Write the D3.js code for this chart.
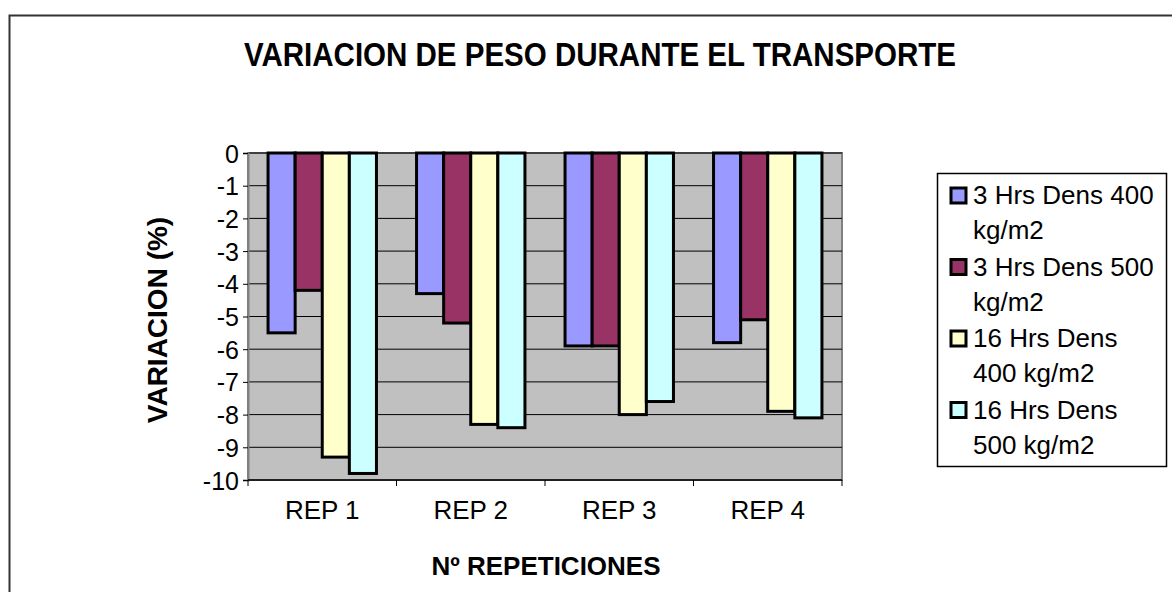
<!DOCTYPE html>
<html>
<head>
<meta charset="utf-8">
<script src="https://d3js.org/d3.v7.min.js"></script>
<style>
  body { margin: 0; background: #fff; }
  text { font-family: Arial, "Liberation Sans", sans-serif; fill: #000; }
</style>
</head>
<body>
<div id="viz"></div>
<script>
// data
var categories = ["REP 1", "REP 2", "REP 3", "REP 4"];
var seriesNames = [
  ["3 Hrs Dens 400", "kg/m2"],
  ["3 Hrs Dens 500", "kg/m2"],
  ["16 Hrs Dens", "400 kg/m2"],
  ["16 Hrs Dens", "500 kg/m2"]
];
var s3h400 = [-5.5, -4.3, -5.9, -5.8];
var s3h500 = [-4.2, -5.2, -5.9, -5.1];
var s16h400 = [-9.3, -8.3, -8.0, -7.9];
var s16h500 = [-9.8, -8.4, -7.6, -8.1];
var yTicks = [0, -1, -2, -3, -4, -5, -6, -7, -8, -9, -10];
var colors = ["#9999FF", "#993366", "#FFFFCC", "#CCFFFF"];

var series = [s3h400, s3h500, s16h400, s16h500];

var W = 1172, H = 592;
var plot = { left: 248, right: 842, top: 153, bottom: 480 };

var svg = d3.select("#viz").append("svg")
  .attr("width", W)
  .attr("height", H);

// outer chart border
svg.append("rect")
  .attr("x", 9.5).attr("y", 15.5)
  .attr("width", 1180).attr("height", 600)
  .attr("fill", "#fff")
  .attr("stroke", "#333")
  .attr("stroke-width", 2);

// scales
var x0 = d3.scaleBand()
  .domain(categories)
  .range([plot.left, plot.right])
  .paddingInner(0.27)
  .paddingOuter(0.135);

var x1 = d3.scaleBand()
  .domain(d3.range(series.length))
  .range([0, x0.bandwidth()]);

var y = d3.scaleLinear()
  .domain([-10, 0])
  .range([plot.bottom, plot.top]);

// plot background
svg.append("rect")
  .attr("x", plot.left).attr("y", plot.top)
  .attr("width", plot.right - plot.left)
  .attr("height", plot.bottom - plot.top)
  .attr("fill", "#C0C0C0")
  .attr("stroke", "#808080")
  .attr("stroke-width", 2);

// gridlines
svg.append("g")
  .selectAll("line")
  .data(yTicks.filter(function (d) { return d > -10; }))
  .enter().append("line")
  .attr("x1", plot.left).attr("x2", plot.right)
  .attr("y1", function (d) { return y(d); })
  .attr("y2", function (d) { return y(d); })
  .attr("stroke", "#000")
  .attr("stroke-width", 1);

// y axis (plain hyphen for negatives, like the original)
var yAxis = d3.axisLeft(y)
  .tickValues(yTicks)
  .tickSize(5)
  .tickPadding(4)
  .tickFormat(function (d) { return String(d); });

var gy = svg.append("g")
  .attr("transform", "translate(" + plot.left + ",0)")
  .call(yAxis);
gy.select(".domain").attr("stroke", "#808080").attr("stroke-width", 2);
gy.selectAll(".tick line").attr("stroke", "#000");
gy.selectAll(".tick text")
  .style("font-size", "25px")
  .style("font-family", "Arial, 'Liberation Sans', sans-serif")
  .attr("dy", "0.36em");

// x axis line + ticks on band boundaries
var boundaries = d3.range(categories.length + 1).map(function (i) {
  return plot.left + i * x0.step();
});
svg.append("line")
  .attr("x1", plot.left).attr("x2", plot.right)
  .attr("y1", plot.bottom).attr("y2", plot.bottom)
  .attr("stroke", "#000").attr("stroke-width", 1.5);
svg.append("g")
  .selectAll("line")
  .data(boundaries)
  .enter().append("line")
  .attr("x1", function (d) { return d; })
  .attr("x2", function (d) { return d; })
  .attr("y1", plot.bottom).attr("y2", plot.bottom + 6)
  .attr("stroke", "#000");

svg.append("g")
  .selectAll("text")
  .data(categories)
  .enter().append("text")
  .attr("x", function (d) { return x0(d) + x0.bandwidth() / 2; })
  .attr("y", 519)
  .style("font-size", "26px")
  .style("text-anchor", "middle")
  .text(function (d) { return d; });

// bars
var groups = svg.append("g")
  .selectAll("g")
  .data(categories)
  .enter().append("g")
  .attr("transform", function (d) { return "translate(" + x0(d) + ",0)"; });

groups.selectAll("rect")
  .data(function (d, i) { return series.map(function (s, k) { return { k: k, v: s[i] }; }); })
  .enter().append("rect")
  .attr("x", function (d) { return x1(d.k); })
  .attr("width", x1.bandwidth())
  .attr("y", y(0))
  .attr("height", function (d) { return y(d.v) - y(0); })
  .attr("fill", function (d) { return colors[d.k]; })
  .attr("stroke", "#000")
  .attr("stroke-width", 3);

// title
svg.append("text")
  .attr("x", 600)
  .attr("y", 66)
  .attr("textLength", 712)
  .attr("lengthAdjust", "spacingAndGlyphs")
  .style("font-size", "33px")
  .style("font-weight", "bold")
  .style("text-anchor", "middle")
  .text("VARIACION DE PESO DURANTE EL TRANSPORTE");

// axis titles
svg.append("text")
  .attr("transform", "translate(167,320) rotate(-90)")
  .style("font-size", "28px")
  .style("font-weight", "bold")
  .style("text-anchor", "middle")
  .text("VARIACION (%)");

svg.append("text")
  .attr("x", 546)
  .attr("y", 575)
  .style("font-size", "26px")
  .style("font-weight", "bold")
  .style("text-anchor", "middle")
  .text("Nº REPETICIONES");

// legend
var lg = svg.append("g");
lg.append("rect")
  .attr("x", 937.5).attr("y", 173.5)
  .attr("width", 229).attr("height", 293)
  .attr("fill", "#fff")
  .attr("stroke", "#000")
  .attr("stroke-width", 1.5);

var items = lg.selectAll(".legend")
  .data(seriesNames)
  .enter().append("g")
  .attr("class", "legend")
  .attr("transform", function (d, i) { return "translate(0," + (195 + i * 71.5) + ")"; });

items.append("rect")
  .attr("x", 951).attr("y", -7)
  .attr("width", 15).attr("height", 15)
  .attr("fill", function (d, i) { return colors[i]; })
  .attr("stroke", "#000")
  .attr("stroke-width", 3);

items.append("text")
  .attr("x", 973)
  .attr("y", 9)
  .style("font-size", "26px")
  .selectAll("tspan")
  .data(function (d) { return d; })
  .enter().append("tspan")
  .attr("x", 973)
  .attr("dy", function (d, i) { return i === 0 ? 0 : 35; })
  .text(function (d) { return d; });
</script>
</body>
</html>
